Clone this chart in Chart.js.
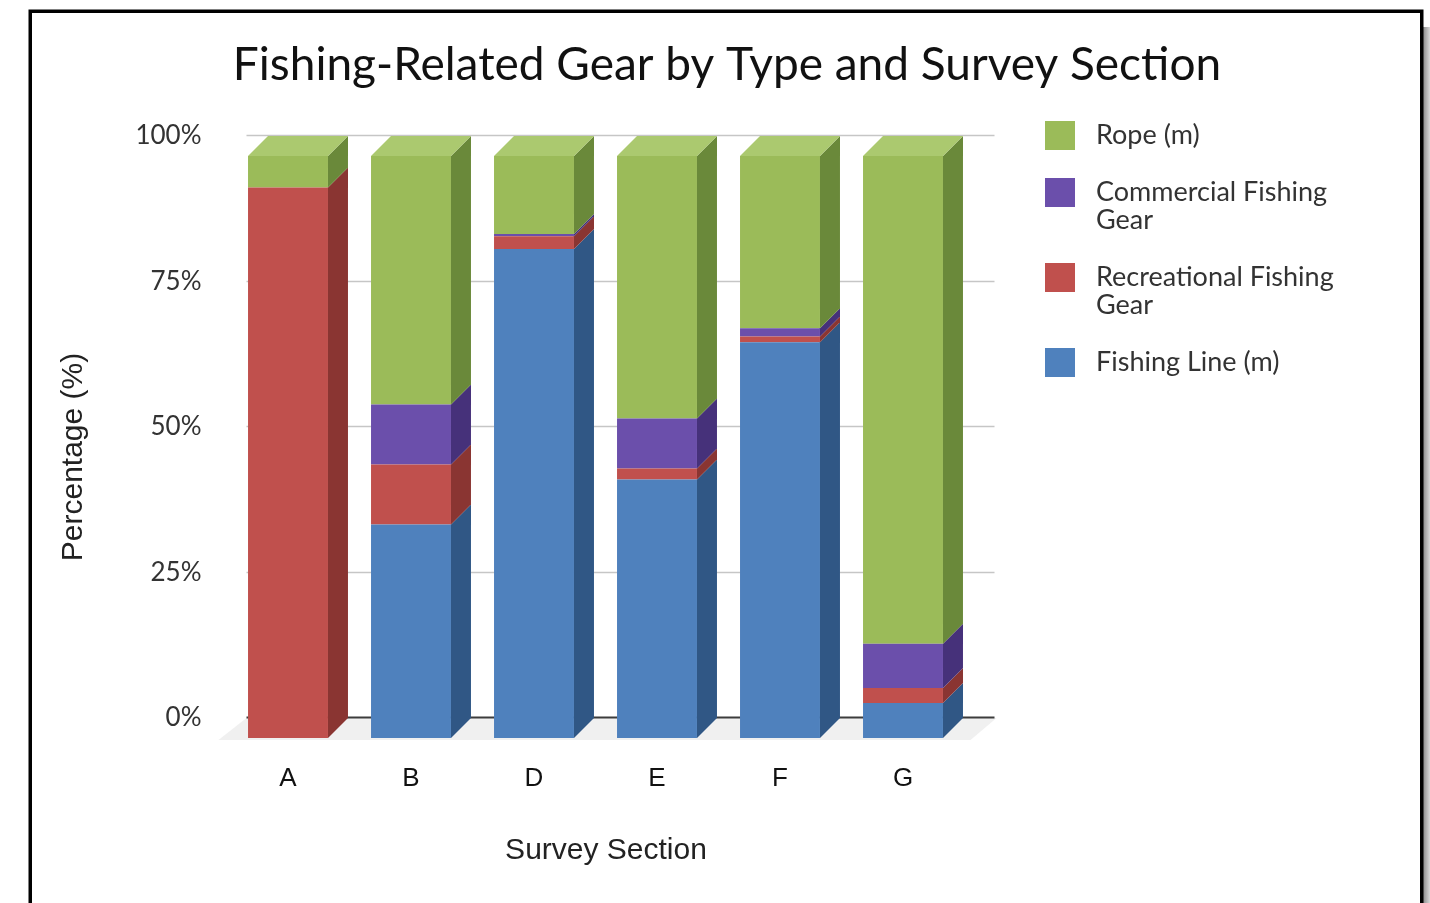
<!DOCTYPE html>
<html>
<head>
<meta charset="utf-8">
<title>Fishing-Related Gear by Type and Survey Section</title>
<script src="https://cdn.jsdelivr.net/npm/chart.js@4.4.1/dist/chart.umd.min.js"></script>
<style>
  html, body { margin: 0; padding: 0; background: #fff; }
  #gear { display: block; }
</style>
</head>
<body>
<canvas id="gear" width="1430" height="903"></canvas>
<script>
// percentages per survey section, bottom of the stack first
var sections = ['A', 'B', 'D', 'E', 'F', 'G'];
var fishingLine  = [0,    36.7, 84.0, 44.4, 68.0, 6.0];
var recreational = [94.6, 10.3, 2.2,  1.9,  1.0,  2.6];
var commercial   = [0,    10.3, 0.4,  8.6,  1.4,  7.6];
var rope         = [5.4,  42.7, 13.4, 45.1, 29.6, 83.8];
var yTicks = [0, 25, 50, 75, 100];

var dx = 20, dy = 20; // depth of the extruded bars

// side / top faces of the bars and the back wall
var bar3d = {
  id: 'bar3d',
  beforeDatasetsDraw: function(chart) {
    var ctx = chart.ctx, a = chart.chartArea, y = chart.scales.y;
    ctx.save();
    // floor
    ctx.fillStyle = '#f0f0f0';
    ctx.beginPath();
    ctx.moveTo(a.left - 8, a.bottom + 2);
    ctx.lineTo(a.right + 6, a.bottom + 2);
    ctx.lineTo(a.right + dx + 12, a.bottom - dy);
    ctx.lineTo(a.left + dx, a.bottom - dy);
    ctx.closePath();
    ctx.fill();
    // grid on the back wall
    yTicks.forEach(function(v) {
      var py = Math.round(y.getPixelForValue(v) - dy - 1) + 0.5;
      ctx.strokeStyle = v === 0 ? '#3c3c3c' : '#c6c6c6';
      ctx.lineWidth = v === 0 ? 2 : 1.3;
      ctx.beginPath();
      ctx.moveTo(a.left + dx, py);
      ctx.lineTo(a.right + dx + 10, py);
      ctx.stroke();
    });
    ctx.restore();
  },
  afterDatasetsDraw: function(chart) {
    var ctx = chart.ctx;
    var metas = chart.getSortedVisibleDatasetMetas();
    ctx.save();
    for (var i = 0; i < chart.data.labels.length; i++) {
      var top = null;
      metas.forEach(function(meta) {
        var ds = chart.data.datasets[meta.index];
        var el = meta.data[i];
        if (!el || !(ds.data[i] > 0)) return;
        var p = el.getProps(['x', 'y', 'base', 'width'], true);
        var x2 = p.x + p.width / 2;
        ctx.fillStyle = ds.sideColor;
        ctx.beginPath();
        ctx.moveTo(x2, p.y);
        ctx.lineTo(x2 + dx, p.y - dy);
        ctx.lineTo(x2 + dx, p.base - dy);
        ctx.lineTo(x2, p.base);
        ctx.closePath();
        ctx.fill();
        top = { p: p, ds: ds };
      });
      if (top) {
        var x1 = top.p.x - top.p.width / 2, xr = top.p.x + top.p.width / 2;
        ctx.fillStyle = top.ds.topColor;
        ctx.beginPath();
        ctx.moveTo(x1, top.p.y);
        ctx.lineTo(x1 + dx, top.p.y - dy);
        ctx.lineTo(xr + dx, top.p.y - dy);
        ctx.lineTo(xr, top.p.y);
        ctx.closePath();
        ctx.fill();
      }
    }
    ctx.restore();
  }
};

// titles, legend and the frame round the chart
var decor = {
  id: 'decor',
  beforeDraw: function(chart) {
    var ctx = chart.ctx;
    ctx.save();
    ctx.fillStyle = '#fff';
    ctx.fillRect(0, 0, chart.width, chart.height);
    ctx.restore();
  },
  afterDraw: function(chart) {
    var ctx = chart.ctx;
    ctx.save();

    ctx.fillStyle = '#111';
    ctx.textAlign = 'center';
    ctx.textBaseline = 'alphabetic';
    ctx.font = '46px Lato';
    ctx.fillText('Fishing-Related Gear by Type and Survey Section', 727, 80);

    ctx.fillStyle = '#222';
    ctx.font = '30px "Liberation Sans"';
    ctx.textBaseline = 'middle';
    ctx.fillText('Survey Section', 606, 851);
    ctx.save();
    ctx.translate(74, 457);
    ctx.rotate(-Math.PI / 2);
    ctx.fillText('Percentage (%)', 0, 0);
    ctx.restore();

    // legend, top series first
    ctx.textAlign = 'left';
    ctx.font = '27px Lato';
    var ly = 135;
    chart.data.datasets.slice().reverse().forEach(function(ds) {
      var words = ds.label.split(' '), lines = [], cur = '';
      words.forEach(function(w) {
        var t = cur ? cur + ' ' + w : w;
        if (ctx.measureText(t).width > 270 && cur) { lines.push(cur); cur = w; }
        else cur = t;
      });
      lines.push(cur);
      ctx.fillStyle = ds.backgroundColor;
      ctx.fillRect(1045, ly - 14, 30, 29);
      ctx.fillStyle = '#333';
      lines.forEach(function(l, k) { ctx.fillText(l, 1096, ly + k * 28); });
      ly += 28 * (lines.length - 1) + 57;
    });

    // frame with a soft shadow on the right
    var g = ctx.createLinearGradient(1423, 0, 1430, 0);
    g.addColorStop(0, '#8a8a8a');
    g.addColorStop(1, '#d8d8d8');
    ctx.fillStyle = g;
    ctx.fillRect(1423, 27, 7, 880);
    ctx.strokeStyle = '#000';
    ctx.lineWidth = 3.5;
    ctx.strokeRect(30.25, 11.25, 1391.5, 950);
    ctx.restore();
  }
};

new Chart(document.getElementById('gear'), {
  type: 'bar',
  data: {
    labels: sections,
    datasets: [
      { label: 'Fishing Line (m)', data: fishingLine, backgroundColor: '#4f81bd', sideColor: '#305785', topColor: '#7199cc' },
      { label: 'Recreational Fishing Gear', data: recreational, backgroundColor: '#c0504d', sideColor: '#8a3532', topColor: '#d07572' },
      { label: 'Commercial Fishing Gear', data: commercial, backgroundColor: '#6b4fab', sideColor: '#46317a', topColor: '#8a72c0' },
      { label: 'Rope (m)', data: rope, backgroundColor: '#9bbb59', sideColor: '#6a893a', topColor: '#abc96f' }
    ]
  },
  options: {
    responsive: false,
    animation: false,
    events: [],
    layout: { padding: { left: 126.5, right: 465.5, top: 156, bottom: 0 } },
    datasets: { bar: { barPercentage: 0.65, categoryPercentage: 1, borderWidth: 0 } },
    plugins: { legend: { display: false }, title: { display: false }, tooltip: { enabled: false } },
    scales: {
      x: {
        stacked: true,
        grid: { display: false },
        border: { display: false },
        ticks: { color: '#111', font: { family: 'Liberation Sans', size: 26 }, padding: 17 },
        afterFit: function(s) { s.height = 165; }
      },
      y: {
        stacked: true,
        min: 0,
        max: 100,
        grid: { display: false },
        border: { display: false },
        afterFit: function(s) { s.width = 100; },
        afterBuildTicks: function(s) { s.ticks = yTicks.map(function(v) { return { value: v }; }); },
        ticks: {
          color: '#333',
          font: { family: 'Lato', size: 26 },
          padding: 17,
          labelOffset: -20,
          callback: function(v) { return v + '%'; }
        }
      }
    }
  },
  plugins: [bar3d, decor]
});
</script>
</body>
</html>
